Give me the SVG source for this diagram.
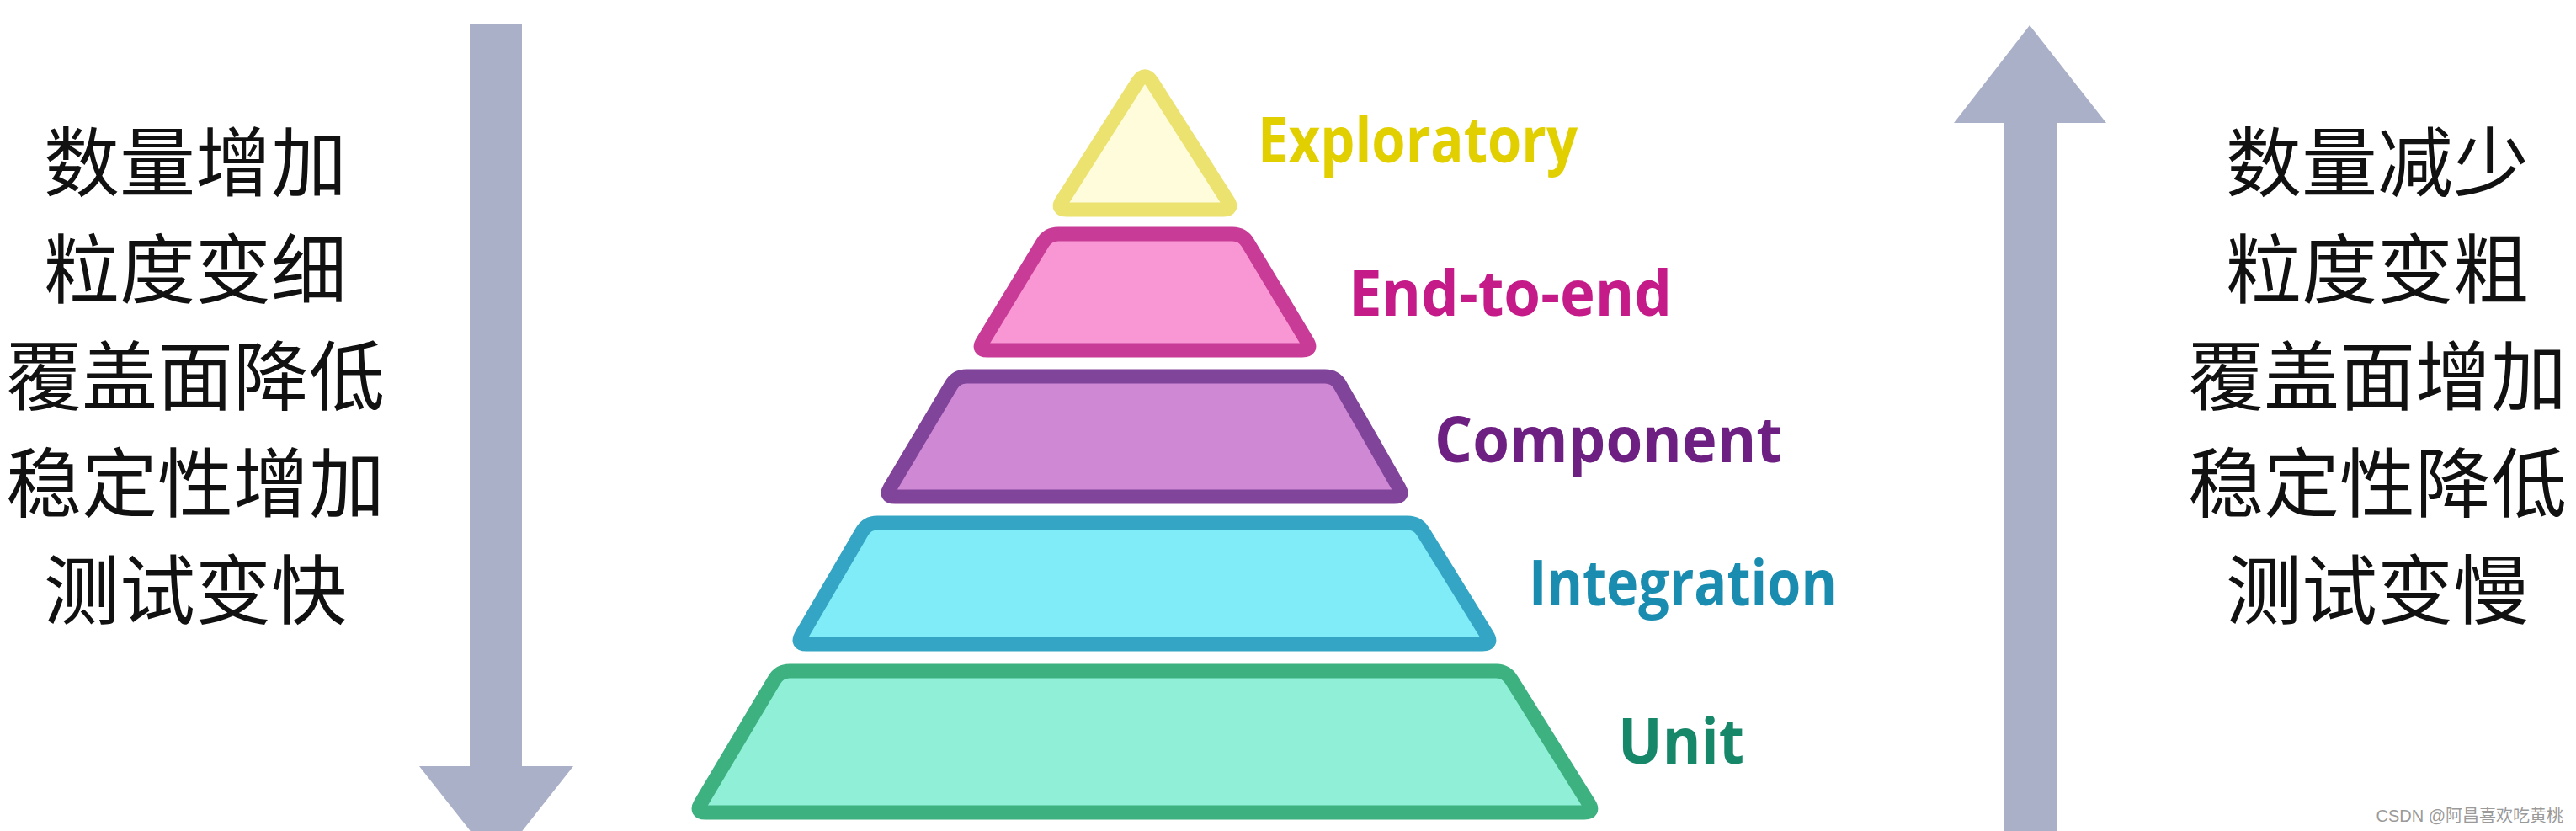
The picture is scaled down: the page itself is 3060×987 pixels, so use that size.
<svg xmlns="http://www.w3.org/2000/svg" width="3060" height="987" viewBox="0 0 3060 987">
<style>
.cn{font-family:"Noto Sans CJK SC","Noto Sans",sans-serif;font-size:90px;fill:#111;text-anchor:middle}
.lbl{font-family:"Open Sans","Noto Sans",sans-serif;font-weight:bold;font-size:75px}
.layer{stroke-width:17;stroke-linejoin:round}
.arrow{fill:#A9B0C8}
.wm{font-family:"Liberation Sans","Noto Sans CJK SC",sans-serif;font-size:20px;fill:#9a9a9a;text-anchor:end}
</style>
<rect width="3060" height="987" fill="#ffffff"/>

<g id="connectors">
  <path class="arrow" d="M558,28 L620,28 L620,910 L681,910 L589.5,1026 L498,910 L558,910 Z"/>
  <path class="arrow" d="M2411,30 L2502,146 L2443,146 L2443,987 L2381,987 L2381,146 L2321,146 Z"/>
</g>

<g id="left-text">
  <text class="cn" x="232" y="226">数量增加</text>
  <text class="cn" x="232" y="353">粒度变细</text>
  <text class="cn" x="232" y="480">覆盖面降低</text>
  <text class="cn" x="232" y="607">稳定性增加</text>
  <text class="cn" x="232" y="734">测试变快</text>
</g>

<g id="right-text">
  <text class="cn" x="2824" y="226">数量减少</text>
  <text class="cn" x="2824" y="353">粒度变粗</text>
  <text class="cn" x="2824" y="480">覆盖面增加</text>
  <text class="cn" x="2824" y="607">稳定性降低</text>
  <text class="cn" x="2824" y="734">测试变慢</text>
</g>

<g id="exploratory">
  <path class="layer" fill="#FFFCDB" stroke="#ECE270" d="M1368.6,97.5 L1458.6,238.9 Q1465,249 1453,249 L1267,249 Q1255,249 1261.4,238.9 L1351.4,97.5 Q1360,84 1368.6,97.5 Z"/>
  <text class="lbl" x="1494" y="193" fill="#E2CF00" textLength="380" lengthAdjust="spacingAndGlyphs">Exploratory</text>
</g>

<g id="end-to-end">
  <path class="layer" fill="#F997D5" stroke="#C83C97" d="M1257,278 L1464,278 Q1476,278 1482.2,288.3 L1552.8,405.7 Q1559,416 1547,416 L1173,416 Q1161,416 1167.2,405.8 L1238.8,288.2 Q1245,278 1257,278 Z"/>
  <text class="lbl" x="1602" y="375" fill="#C41B88" textLength="384" lengthAdjust="spacingAndGlyphs">End-to-end</text>
</g>

<g id="component">
  <path class="layer" fill="#CF88D4" stroke="#80449A" d="M1148,447 L1574,447 Q1586,447 1592,457.4 L1662,579.6 Q1668,590 1656,590 L1063,590 Q1051,590 1057.1,579.7 L1129.9,457.3 Q1136,447 1148,447 Z"/>
  <text class="lbl" x="1704" y="549" fill="#6D1F82" textLength="413" lengthAdjust="spacingAndGlyphs">Component</text>
</g>

<g id="integration">
  <path class="layer" fill="#80ECF7" stroke="#34A5C4" d="M1042,621 L1672,621 Q1684,621 1690.3,631.2 L1766.7,754.8 Q1773,765 1761,765 L958,765 Q946,765 952,754.6 L1024,631.4 Q1030,621 1042,621 Z"/>
  <text class="lbl" x="1816" y="719" fill="#1A8CB0" textLength="366" lengthAdjust="spacingAndGlyphs">Integration</text>
</g>

<g id="unit">
  <path class="layer" fill="#8FF0D7" stroke="#3DB17F" d="M938,797 L1777,797 Q1789,797 1795.4,807.2 L1887.6,954.8 Q1894,965 1882,965 L838,965 Q826,965 832.1,954.7 L919.9,807.3 Q926,797 938,797 Z"/>
  <text class="lbl" x="1922" y="907" fill="#178769" textLength="150" lengthAdjust="spacingAndGlyphs">Unit</text>
</g>

<text class="wm" x="3045" y="976">CSDN @阿昌喜欢吃黄桃</text>
</svg>
